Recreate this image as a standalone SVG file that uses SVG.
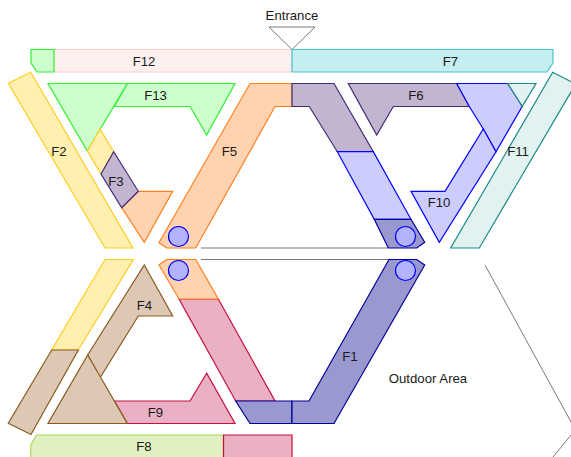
<svg xmlns="http://www.w3.org/2000/svg" width="571" height="457" viewBox="0 0 571 457">
<style>
text{font-family:"Liberation Sans",Arial,sans-serif;font-size:13.2px;fill:#1a1a1a;text-anchor:middle}
polygon{stroke-width:1.2;stroke-linejoin:miter}
.rose{fill:#fff0f0;stroke:#ffcccc}
.green{fill:#ccffcc;stroke:#33ee33}
.yellow{fill:#fff0b0;stroke:#ffcc22}
.orange{fill:#ffd2b0;stroke:#ff8020}
.plum{fill:#c3b5d0;stroke:#432d7a}
.lav{fill:#ccccff;stroke:#0000ff}
.navy{fill:#9999d0;stroke:#000099}
.brown{fill:#dcc8b4;stroke:#8b5a20}
.pink{fill:#eab0c4;stroke:#c8103f}
.cyan{fill:#c5eef0;stroke:#4cc4cc}
.teal{fill:#e2f2f0;stroke:#1a8a8a}
.lime{fill:#e0f0c0;stroke:#b0d860}
.door{fill:#b3b3ff;stroke:#0000ff;stroke-width:1.2}
.wall{fill:none;stroke:#7a7a7a;stroke-width:1}
</style>
<g id="walls">
<line class="wall" x1="201" y1="248" x2="388" y2="248"/>
<line class="wall" x1="201" y1="259.5" x2="389" y2="259.5"/>
<polyline class="wall" points="485,265 576,431"/>
<polyline class="wall" points="553,457 576,429"/>
</g>
<g id="entrance">
<polygon points="269,27 315,27 292,49.5" fill="#fff" style="stroke:#7a7a7a;stroke-width:1"/>
<text x="292" y="20">Entrance</text>
</g>
<g id="F12">
<polygon class="rose" points="54,49.5 292,49.5 292,72 54,72"/>
<polygon class="green" points="31,49.5 54,49.5 54,72 37,72 31,63"/>
<text x="144" y="66">F12</text>
</g>
<g id="F7">
<polygon class="cyan" points="292,49.5 553,49.5 553,63 547,72 292,72"/>
<text x="450.5" y="66">F7</text>
</g>
<g id="F2">
<polygon class="yellow" points="8.3,83.3 30.7,72.3 133,248 105,248"/>
<text x="59" y="156">F2</text>
</g>
<g id="F13">
<polygon class="green" points="127.3,83.5 235,83.5 206.7,135 190,106.5 114.5,106.5"/>
<polygon class="green" points="48,83.5 127.3,83.5 87.3,151"/>
<text x="155.5" y="100">F13</text>
</g>
<g id="F3">
<polygon class="yellow" points="100,129 113.7,151.7 101,174 87.3,151"/>
<polygon class="orange" points="138.3,191.3 172.7,191.3 144.3,242.3 121.7,207.7"/>
<polygon class="plum" points="113.7,151.7 138.3,191.3 121.7,207.7 101,174"/>
<text x="116" y="185.5">F3</text>
</g>
<g id="F5">
<polygon class="orange" points="250,83.5 292,83.5 292,106.5 275,106.5 195.7,248 166.7,248 159,242.7"/>
<circle class="door" cx="178.5" cy="236.5" r="10"/>
<text x="229.5" y="156">F5</text>
</g>
<g id="F1-upper">
<polygon class="plum" points="292,83.5 334,83.5 373.3,151.7 337.3,151.7 309.3,106.5 292,106.5"/>
<polygon class="lav" points="337.3,151.7 373.3,151.7 411,219.3 374.3,219.3"/>
<polygon class="navy" points="374.3,219.3 411,219.3 424.7,242.3 416.7,248 388.3,248"/>
<circle class="door" cx="405.5" cy="236.5" r="10"/>
</g>
<g id="F6">
<polygon class="plum" points="348.3,83.5 456.7,83.5 469.3,106.5 393.3,106.5 376.7,135"/>
<polygon class="lav" points="456.7,83.5 507.7,83.5 522.3,106.3 496,151.7 483.3,129 469.3,106.5"/>
<polygon class="teal" points="507.7,83.5 536,83.5 522.3,106.3"/>
<text x="416" y="100">F6</text>
</g>
<g id="F10">
<polygon class="lav" points="483.3,129 496,151.7 439.3,242.3 411,191.3 445,191.3"/>
<text x="439" y="207">F10</text>
</g>
<g id="F11">
<polygon class="teal" points="552.7,72.3 575.7,84 479.3,248 450.7,248"/>
<text x="518" y="156">F11</text>
</g>
<g id="F2-lower">
<polygon class="yellow" points="105,259.5 133.3,259.5 78.3,350 51.7,350"/>
<polygon class="brown" points="51.7,350 78.3,350 31,434.5 8.3,423.3"/>
</g>
<g id="F4">
<polygon class="brown" points="144.3,265 172.7,316 138.3,316 100,377.7 87.7,355"/>
<text x="144.5" y="310">F4</text>
</g>
<g id="F9">
<polygon class="pink" points="114.5,401 190,401 206.7,373.3 235,423.5 127.3,423.5"/>
<polygon class="brown" points="87.7,355 127.3,423.5 48,423.5"/>
<text x="155.5" y="417">F9</text>
</g>
<g id="F5-lower">
<polygon class="pink" points="179,299 218.3,299 275,401 235.7,401"/>
<polygon class="orange" points="166.7,259.5 195.7,259.5 218.3,299 179,299 159,265"/>
<circle class="door" cx="178.5" cy="270.5" r="10"/>
</g>
<g id="F1">
<polygon class="navy" points="235.7,401 292,401 292,423.5 250,423.5"/>
<polygon class="navy" points="292,401 309,401 389,259.5 416.7,259.5 424.7,265 334,423.5 292,423.5"/>
<circle class="door" cx="405.5" cy="270.5" r="10"/>
<text x="350" y="361">F1</text>
</g>
<g id="F8">
<polygon class="lime" points="36.5,435 223.5,435 223.5,459 30.7,459 30.7,445"/>
<polygon class="pink" points="223.5,435 292,435 292,459 223.5,459"/>
<text x="144" y="451">F8</text>
</g>
<g id="outdoor"><text x="428" y="383">Outdoor Area</text></g>
</svg>
